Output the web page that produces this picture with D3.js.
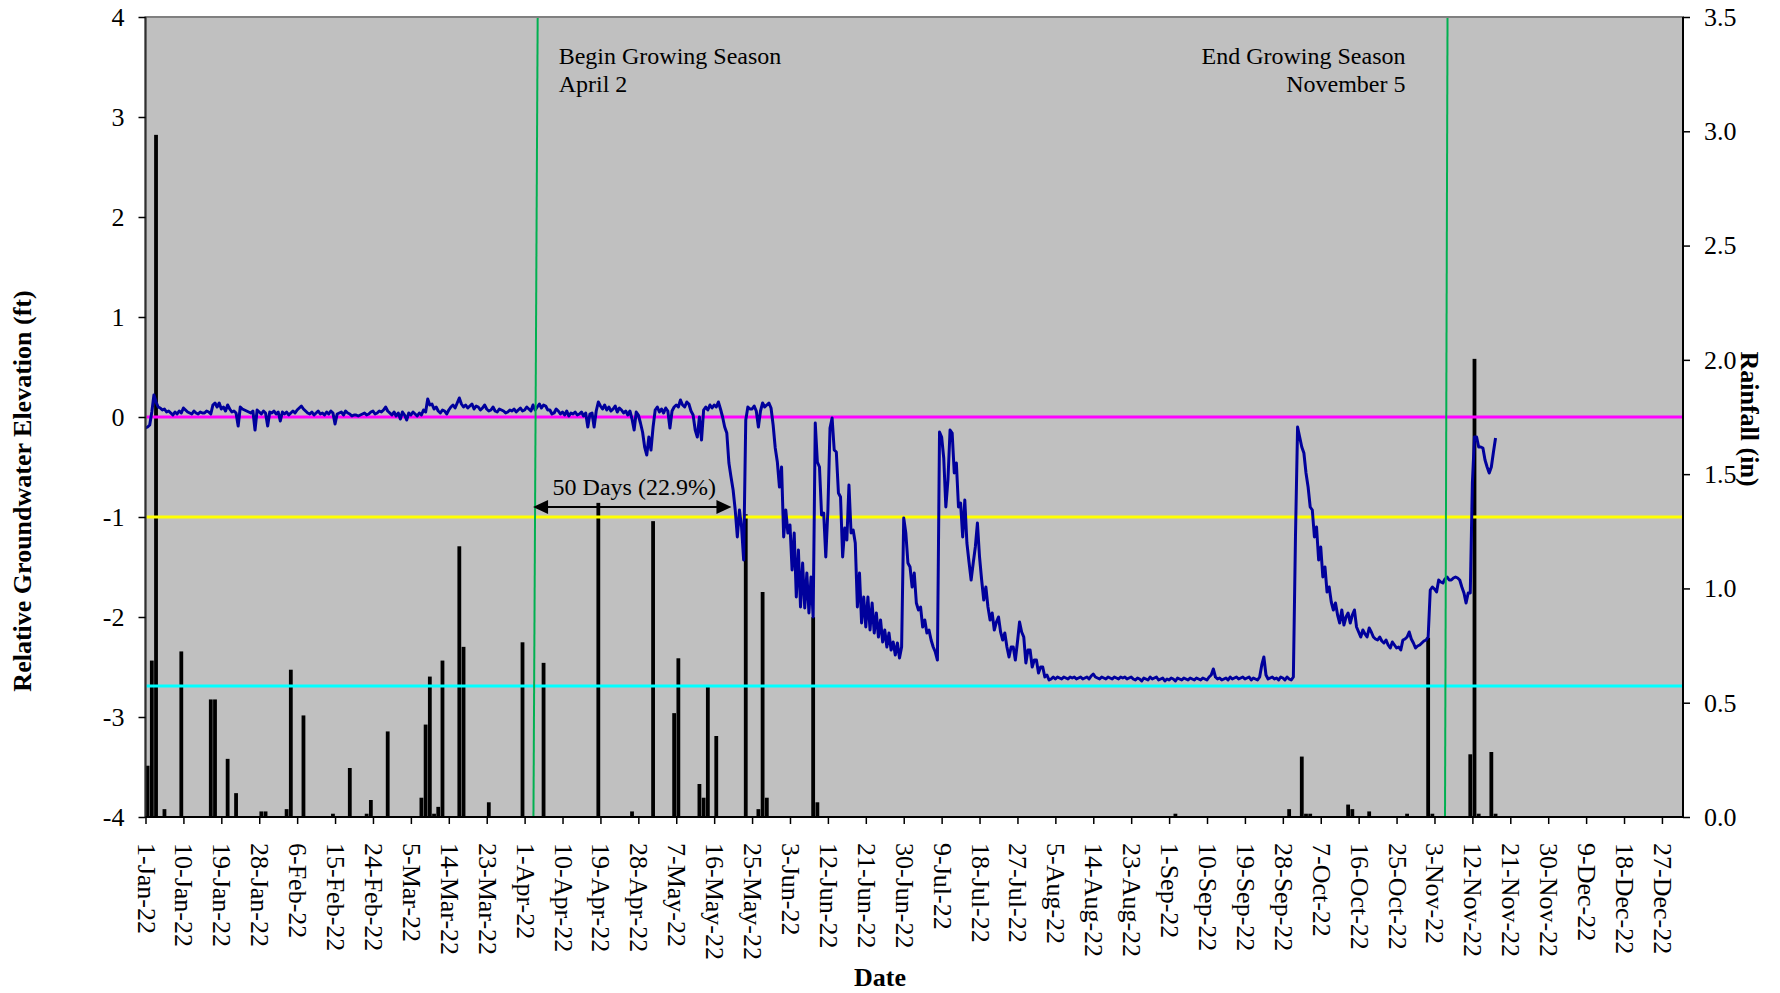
<!DOCTYPE html>
<html><head><meta charset="utf-8">
<script src="https://cdn.jsdelivr.net/npm/d3@7"></script>
<style>
body{margin:0;background:#fff}
svg{display:block}
text{font-family:"Liberation Serif","Times New Roman",serif;fill:#000}
</style>
</head><body><svg id="c" width="1780" height="993"></svg>
<script>
// ---------------- data ----------------
const startDate = "2022-01-01";
const endDate = "2023-01-01";
const tickStepDays = 9;
const leftTicks = [-4, -3, -2, -1, 0, 1, 2, 3, 4];
const rightTicks = [0, 0.5, 1, 1.5, 2, 2.5, 3, 3.5];

// daily rainfall (in)
const rainDates = ["2022-01-01","2022-01-02","2022-01-03","2022-01-05","2022-01-09","2022-01-16","2022-01-17","2022-01-20","2022-01-22","2022-01-28",
  "2022-01-29","2022-02-03","2022-02-04","2022-02-07","2022-02-14","2022-02-18","2022-02-22","2022-02-23","2022-02-27","2022-03-07",
  "2022-03-08","2022-03-09","2022-03-10","2022-03-11","2022-03-12","2022-03-16","2022-03-17","2022-03-23","2022-03-31","2022-04-05",
  "2022-04-18","2022-04-26","2022-05-01","2022-05-06","2022-05-07","2022-05-12","2022-05-13","2022-05-14","2022-05-16","2022-05-23",
  "2022-05-26","2022-05-27","2022-05-28","2022-06-08","2022-06-09","2022-09-02","2022-09-29","2022-10-02","2022-10-03","2022-10-04",
  "2022-10-13","2022-10-14","2022-10-18","2022-10-27","2022-11-01","2022-11-02","2022-11-11","2022-11-12","2022-11-13","2022-11-16",
  "2022-11-17"];
const rainInches = [0.22,0.68,2.98,0.03,0.72,0.51,0.51,0.25,0.10,0.02,
  0.02,0.03,0.64,0.44,0.01,0.21,0.01,0.07,0.37,0.08,
  0.40,0.61,0.01,0.04,0.68,1.18,0.74,0.06,0.76,0.67,
  1.37,0.02,1.29,0.45,0.69,0.14,0.08,0.57,0.35,1.32,
  0.03,0.98,0.08,0.87,0.06,0.01,0.03,0.26,0.01,0.01,
  0.05,0.03,0.02,0.01,0.78,0.01,0.27,2.00,0.01,0.28,
  0.01];

// relative groundwater elevation (ft), one reading every 12 hours from 1-Jan-22 00:00
const gwStepHours = 12;
const gwFeet = [
  -0.11,-0.10,-0.08,0.05,0.22,0.15,0.10,0.09,0.07,0.08,0.05,0.06,0.04,0.02,0.05,0.03,0.06,0.04,0.09,0.07,
  0.05,0.04,0.03,0.06,0.04,0.03,0.05,0.04,0.04,0.06,0.05,0.03,0.12,0.14,0.10,0.14,0.08,0.10,0.06,0.12,
  0.08,0.05,0.06,0.04,-0.09,0.10,0.08,0.07,0.06,0.05,0.04,0.06,-0.13,0.07,0.05,0.03,0.06,0.04,-0.09,0.05,
  0.04,0.06,0.03,0.05,-0.04,0.05,0.03,0.05,0.02,0.04,0.06,0.04,0.07,0.09,0.11,0.08,0.06,0.04,0.03,0.05,
  0.02,0.04,0.06,0.03,0.04,0.02,0.05,0.03,0.06,0.04,-0.07,0.03,0.04,0.05,0.02,0.06,0.04,0.03,0.01,0.02,
  0.02,0.01,0.02,0.03,0.04,0.02,0.03,0.05,0.06,0.03,0.04,0.06,0.05,0.07,0.10,0.06,0.04,0.02,0.05,0.01,
  0.04,-0.02,0.05,0.02,-0.03,0.04,0.02,0.05,0.03,0.01,0.04,0.02,0.07,0.05,0.18,0.12,0.13,0.08,0.10,0.06,
  0.04,0.07,0.06,0.03,0.07,0.10,0.12,0.09,0.14,0.19,0.13,0.10,0.12,0.09,0.11,0.13,0.08,0.11,0.10,0.07,
  0.09,0.12,0.08,0.06,0.07,0.10,0.06,0.05,0.08,0.07,0.06,0.04,0.05,0.07,0.06,0.08,0.05,0.07,0.09,0.06,
  0.07,0.10,0.08,0.06,0.12,0.07,0.10,0.13,0.09,0.12,0.11,0.07,0.07,0.03,0.04,0.08,0.06,0.03,0.05,0.02,
  0.06,0.01,0.04,0.03,0.05,0.02,0.03,0.05,0.01,0.04,-0.10,0.03,0.04,-0.10,0.06,0.15,0.11,0.08,0.12,0.07,
  0.10,0.06,0.08,0.11,0.05,0.09,0.07,0.04,0.06,0.02,0.06,-0.02,-0.13,0.05,0.02,-0.06,-0.15,-0.30,-0.38,-0.20,
  -0.33,-0.10,0.07,0.10,0.05,0.08,0.04,0.09,0.06,-0.11,0.06,0.10,0.12,0.10,0.17,0.12,0.10,0.15,0.13,0.06,
  0.02,-0.13,-0.20,0.00,-0.23,0.07,0.10,0.07,0.12,0.09,0.12,0.10,0.15,0.08,0.00,-0.10,-0.16,-0.46,-0.60,-0.73,
  -0.93,-1.20,-0.93,-1.10,-1.43,-0.03,0.10,0.08,0.08,0.11,0.06,-0.10,0.06,0.14,0.10,0.12,0.14,0.09,-0.08,-0.31,
  -0.45,-0.70,-0.50,-1.20,-0.93,-1.16,-1.08,-1.53,-1.16,-1.80,-1.33,-1.90,-1.46,-1.91,-1.56,-1.96,-1.60,-2.00,-0.06,-0.45,
  -0.50,-0.98,-0.96,-1.40,-0.93,-0.11,-0.01,-0.33,-0.35,-0.76,-0.80,-1.40,-1.11,-1.23,-0.68,-1.16,-1.13,-1.26,-1.90,-1.56,
  -2.06,-1.80,-2.10,-1.80,-2.13,-1.86,-2.16,-1.96,-2.20,-2.03,-2.25,-2.13,-2.30,-2.16,-2.33,-2.25,-2.38,-2.26,-2.41,-2.30,
  -1.01,-1.16,-1.46,-1.50,-1.70,-1.56,-1.86,-1.93,-1.90,-2.10,-2.03,-2.16,-2.13,-2.23,-2.30,-2.35,-2.43,-0.15,-0.20,-0.41,
  -0.90,-0.63,-0.13,-0.16,-0.56,-0.46,-0.90,-0.86,-1.20,-0.83,-1.26,-1.45,-1.63,-1.46,-1.30,-1.06,-1.40,-1.63,-1.83,-1.70,
  -1.90,-2.03,-1.96,-2.13,-2.05,-2.00,-2.15,-2.23,-2.16,-2.30,-2.40,-2.30,-2.30,-2.43,-2.25,-2.05,-2.15,-2.20,-2.46,-2.33,
  -2.33,-2.50,-2.43,-2.43,-2.56,-2.50,-2.50,-2.60,-2.58,-2.63,-2.62,-2.60,-2.62,-2.60,-2.61,-2.62,-2.60,-2.61,-2.62,-2.60,
  -2.61,-2.60,-2.62,-2.61,-2.60,-2.62,-2.61,-2.60,-2.62,-2.59,-2.57,-2.60,-2.61,-2.62,-2.60,-2.61,-2.62,-2.60,-2.61,-2.62,
  -2.60,-2.61,-2.62,-2.60,-2.61,-2.60,-2.62,-2.61,-2.60,-2.62,-2.63,-2.61,-2.62,-2.64,-2.61,-2.62,-2.63,-2.60,-2.62,-2.61,
  -2.60,-2.63,-2.62,-2.61,-2.64,-2.62,-2.63,-2.61,-2.62,-2.64,-2.61,-2.62,-2.63,-2.61,-2.62,-2.63,-2.61,-2.62,-2.63,-2.61,
  -2.62,-2.63,-2.61,-2.62,-2.63,-2.60,-2.58,-2.52,-2.60,-2.62,-2.61,-2.63,-2.62,-2.61,-2.63,-2.60,-2.62,-2.61,-2.60,-2.62,
  -2.61,-2.60,-2.62,-2.61,-2.60,-2.63,-2.61,-2.62,-2.63,-2.60,-2.48,-2.40,-2.58,-2.62,-2.61,-2.60,-2.62,-2.61,-2.63,-2.60,
  -2.61,-2.63,-2.60,-2.62,-2.63,-2.60,-1.20,-0.10,-0.20,-0.30,-0.36,-0.56,-0.70,-0.90,-0.93,-1.20,-1.10,-1.43,-1.30,-1.60,
  -1.50,-1.75,-1.70,-1.85,-1.93,-1.86,-1.98,-2.06,-1.93,-2.08,-2.00,-1.96,-2.06,-1.98,-1.93,-2.10,-2.15,-2.20,-2.13,-2.17,
  -2.20,-2.11,-2.15,-2.20,-2.22,-2.23,-2.20,-2.24,-2.26,-2.23,-2.28,-2.31,-2.25,-2.28,-2.31,-2.30,-2.33,-2.23,-2.22,-2.20,
  -2.15,-2.22,-2.26,-2.31,-2.29,-2.28,-2.26,-2.24,-2.23,-2.20,-1.73,-1.70,-1.72,-1.75,-1.63,-1.65,-1.66,-1.62,-1.60,-1.63,
  -1.63,-1.61,-1.60,-1.61,-1.63,-1.70,-1.76,-1.86,-1.76,-1.76,-0.66,-0.20,-0.20,-0.30,-0.30,-0.31,-0.43,-0.50,-0.56,-0.50,
  -0.35,-0.21
];

// reference levels (ft)
const refLevels = [0, -1, -2.69];
const refColors = ["#ff00ff", "#ffff00", "#00ffff"];

// growing season markers
const seasonDates = ["2022-04-02", "2022-11-05"];
const seasonLineTopOffsetDays = [2.1, 1.1];
const seasonLineBottomOffsetDays = [1.1, 0.5];
const seasonText = [["Begin Growing Season", "April 2"], ["End Growing Season", "November 5"]];

// 50-day annotation arrow (days from 1-Jan, ft)
const arrowDays = [92.0, 139.1];
const arrowFeet = -0.9;
const arrowLabel = "50 Days (22.9%)";

// ---------------- drawing ----------------
const L = 145.5, R = 1683, T = 17, B = 817;
const DAY = 86400000;
const parse = d3.utcParse("%Y-%m-%d");
const t0 = parse(startDate);
const svg = d3.select("#c");

const x = d3.scaleUtc().domain([t0, parse(endDate)]).range([L, R]);
const yL = d3.scaleLinear().domain([-4, 4]).range([B, T]);
const yR = d3.scaleLinear().domain([0, 3.5]).range([B, T]);
const dayX = d => x(new Date(t0.getTime() + d * DAY));

// plot area
svg.append("rect").attr("x", L).attr("y", T).attr("width", R - L).attr("height", B - T)
  .attr("fill", "#c0c0c0").attr("stroke", "#808080").attr("stroke-width", 2);

// rainfall bars
const barW = 3.8;
svg.append("g").selectAll("rect").data(rainDates.map((d, i) => ({ d: parse(d), v: rainInches[i] })))
  .join("rect")
  .attr("x", d => x(new Date(d.d.getTime() + DAY / 2)) - barW / 2)
  .attr("width", barW)
  .attr("y", d => yR(d.v) - 1)
  .attr("height", d => Math.max(2.5, yR(0) - yR(d.v) + 1))
  .attr("fill", "#000");

// reference lines
svg.append("g").selectAll("line").data(refLevels).join("line")
  .attr("x1", L + 1).attr("x2", R - 1)
  .attr("y1", d => yL(d)).attr("y2", d => yL(d))
  .attr("stroke", (d, i) => refColors[i]).attr("stroke-width", 3);

// groundwater line
const line = d3.line()
  .x((d, i) => x(new Date(t0.getTime() + i * gwStepHours * 3600000)))
  .y(d => yL(d));
svg.append("path").datum(gwFeet).attr("d", line)
  .attr("fill", "none").attr("stroke", "#00009c").attr("stroke-width", 3)
  .attr("stroke-linejoin", "round");

// growing season lines
seasonDates.forEach((s, i) => {
  const base = (parse(s) - t0) / DAY;
  svg.append("line")
    .attr("x1", dayX(base + seasonLineTopOffsetDays[i])).attr("y1", T + 1)
    .attr("x2", dayX(base + seasonLineBottomOffsetDays[i])).attr("y2", B - 1)
    .attr("stroke", "#00b050").attr("stroke-width", 2);
});

// season text
const topX0 = dayX((parse(seasonDates[0]) - t0) / DAY + seasonLineTopOffsetDays[0]);
const topX1 = dayX((parse(seasonDates[1]) - t0) / DAY + seasonLineTopOffsetDays[1]);
const st0 = svg.append("text").attr("x", topX0 + 21).attr("y", 64).attr("font-size", 24);
st0.append("tspan").attr("x", topX0 + 21).text(seasonText[0][0]);
st0.append("tspan").attr("x", topX0 + 21).attr("dy", 28).text(seasonText[0][1]);
const st1 = svg.append("text").attr("y", 64).attr("font-size", 24).attr("text-anchor", "end");
st1.append("tspan").attr("x", topX1 - 42).text(seasonText[1][0]);
st1.append("tspan").attr("x", topX1 - 42).attr("dy", 28).text(seasonText[1][1]);

// arrow
const ax1 = dayX(arrowDays[0]), ax2 = dayX(arrowDays[1]), ay = yL(arrowFeet);
const ah = 15, aw = 7;
svg.append("line").attr("x1", ax1 + ah - 1).attr("x2", ax2 - ah + 1).attr("y1", ay).attr("y2", ay)
  .attr("stroke", "#000").attr("stroke-width", 2);
svg.append("path").attr("d", `M${ax1},${ay}L${ax1 + ah},${ay - aw}L${ax1 + ah},${ay + aw}Z`).attr("fill", "#000");
svg.append("path").attr("d", `M${ax2},${ay}L${ax2 - ah},${ay - aw}L${ax2 - ah},${ay + aw}Z`).attr("fill", "#000");
svg.append("text").attr("x", (ax1 + ax2) / 2 + 2).attr("y", ay - 12).attr("font-size", 24)
  .attr("text-anchor", "middle").text(arrowLabel);

// axes
const fs = 26;
const gL = svg.append("g").attr("transform", `translate(${L},0)`)
  .call(d3.axisLeft(yL).tickValues(leftTicks).tickFormat(d => String(d)).tickSize(7).tickPadding(14));
const gR = svg.append("g").attr("transform", `translate(${R},0)`)
  .call(d3.axisRight(yR).tickValues(rightTicks).tickFormat(d => d.toFixed(1)).tickSize(7).tickPadding(14));
const xTicks = d3.range(0, 361, tickStepDays).map(d => new Date(t0.getTime() + d * DAY));
const gX = svg.append("g").attr("transform", `translate(0,${B})`)
  .call(d3.axisBottom(x).tickValues(xTicks).tickFormat(d3.utcFormat("%-d-%b-%y")).tickSize(7));
[gL, gR, gX].forEach(g => {
  g.selectAll("text").attr("font-size", fs).attr("font-family", '"Liberation Serif","Times New Roman",serif').attr("fill", "#000");
  g.selectAll("line").attr("stroke", "#000").attr("stroke-width", 1.5);
  g.select(".domain").attr("stroke", "#000").attr("stroke-width", 2);
});
gL.select(".domain").attr("d", `M0,${T}V${B}`).attr("stroke", "#303030");
gR.select(".domain").attr("d", `M0,${T}V${B}`);
gX.select(".domain").attr("d", `M${L},0H${R}`);
gX.selectAll(".tick text")
  .attr("transform", "rotate(90)")
  .attr("text-anchor", "start")
  .attr("dy", null)
  .attr("dominant-baseline", "central")
  .attr("x", 26).attr("y", 0);

// axis titles
svg.append("text").attr("transform", `translate(31,${491}) rotate(-90)`)
  .attr("text-anchor", "middle").attr("font-size", 26).attr("font-weight", "bold")
  .text("Relative Groundwater Elevation (ft)");
svg.append("text").attr("transform", `translate(1741,${419}) rotate(90)`)
  .attr("text-anchor", "middle").attr("font-size", 26).attr("font-weight", "bold")
  .text("Rainfall (in)");
svg.append("text").attr("x", 880).attr("y", 986)
  .attr("text-anchor", "middle").attr("font-size", 26).attr("font-weight", "bold")
  .text("Date");
</script></body></html>
